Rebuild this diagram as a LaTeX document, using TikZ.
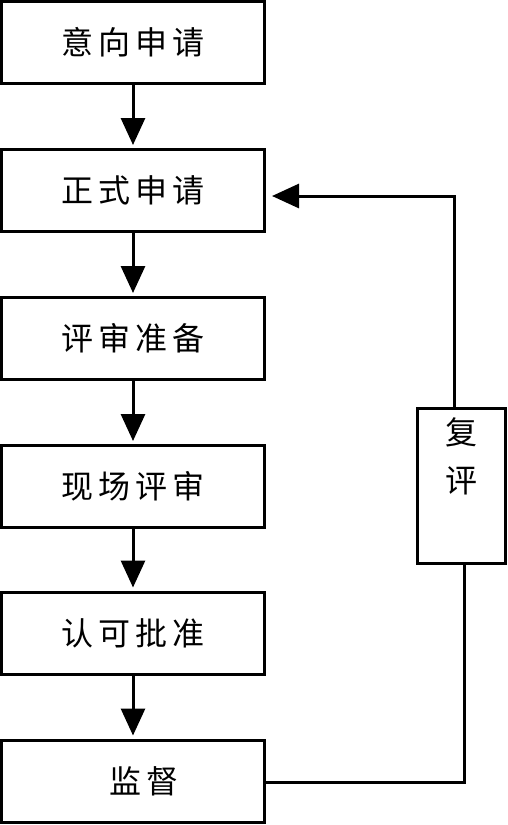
\documentclass[tikz,border=0pt]{standalone}
\usepackage{fontspec}
\newfontfamily\cjk{Noto Sans CJK SC}
\usetikzlibrary{arrows.meta,calc}
\newcommand\cg{\hspace{5pt}}
\newcommand\tailgap{\hspace{12pt}}
\begin{document}
\begin{tikzpicture}[x=1pt,y=-1pt,
  stepbox/.style={draw,line width=3pt,minimum width=263pt,minimum height=82pt,inner sep=0pt,
    font=\cjk\fontsize{32}{38}\selectfont},
  sidebox/.style={draw,line width=3pt,minimum width=88pt,minimum height=155pt,inner sep=0pt,
    align=center,font=\cjk\fontsize{32}{48}\selectfont},
  flow/.style={line width=3pt,-{Triangle[width=24pt,length=27pt]}},
  link/.style={line width=3pt}]
\fill[white] (0,0) rectangle (508,825);
\useasboundingbox (0,0) rectangle (508,825);
\node[stepbox] (b1) at (133,42.5) {意\cg 向\cg 申\cg 请\tailgap};
\node[stepbox] (b2) at (133,190.5) {正\cg 式\cg 申\cg 请\tailgap};
\node[stepbox] (b3) at (133,338.5) {评\cg 审\cg 准\cg 备\tailgap};
\node[stepbox] (b4) at (133,486.5) {现\cg 场\cg 评\cg 审\tailgap};
\node[stepbox] (b5) at (133,633) {认\cg 可\cg 批\cg 准\tailgap};
\node[stepbox] (b6) at (133,781) {\hspace{22pt}监\cg 督};
\node[sidebox] (fb) at (461.5,486) {复\\评\\[14pt]};
\foreach \a/\b in {b1/b2,b2/b3,b3/b4,b4/b5,b5/b6}
  \draw[flow,shorten >=3pt] (\a.south) -- (\b.north);
\coordinate (c1) at (464,782);
\coordinate (c2) at (454,196);
\draw[link] (b6.east |- c1) -- (c1) -- (c1 |- fb.south);
\draw[flow,shorten >=6pt] (fb.north -| c2) -- (c2) -- (b2.east |- c2);
\end{tikzpicture}
\end{document}
